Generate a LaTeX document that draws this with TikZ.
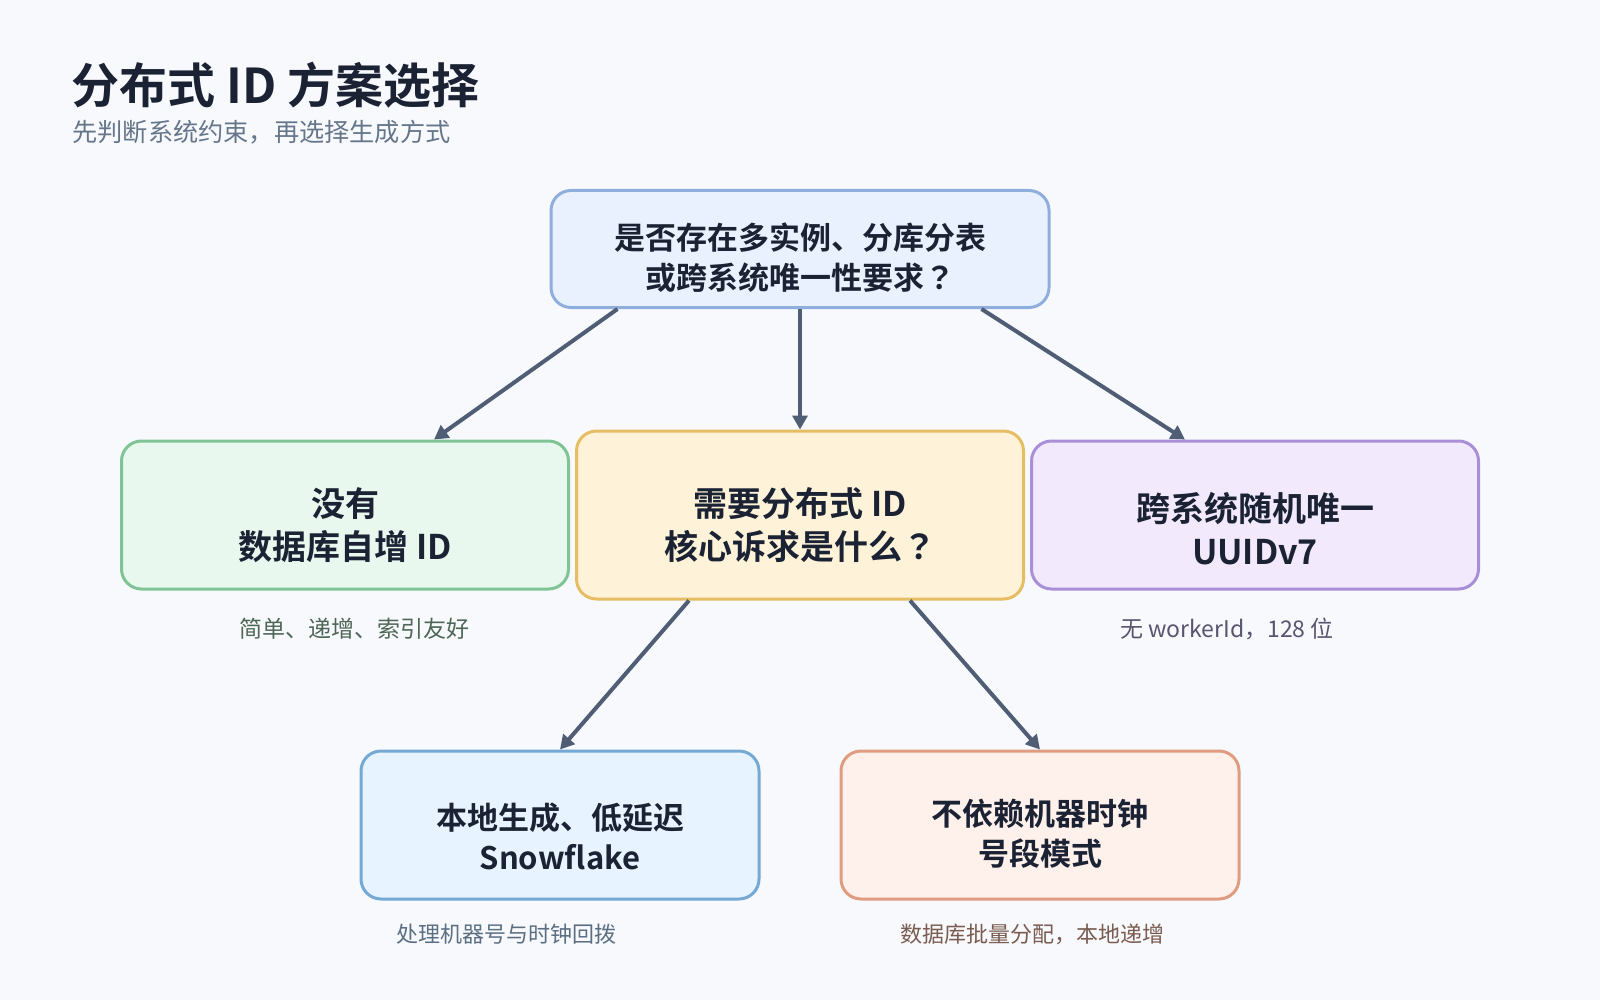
\documentclass[tikz,border=0pt]{standalone}
\usepackage{fontspec}
\setmainfont{Noto Sans CJK SC}[BoldFont={Noto Sans CJK SC Bold}]
\newfontfamily\qfont{Noto Sans CJK JP}[BoldFont={Noto Sans CJK JP Bold}]
\newcommand\qmark{{\qfont ？}}
\usetikzlibrary{positioning,arrows.meta}
\definecolor{paper}{HTML}{F7F9FC}
\definecolor{ink}{HTML}{1A2233}
\definecolor{muted}{HTML}{66768A}
\definecolor{edge}{HTML}{4F5D75}
\definecolor{qfill}{HTML}{E9F1FE}\definecolor{qline}{HTML}{8FAEDD}
\definecolor{gfill}{HTML}{E8F8EE}\definecolor{gline}{HTML}{80C495}
\definecolor{yfill}{HTML}{FEF3D9}\definecolor{yline}{HTML}{E6BD63}
\definecolor{pfill}{HTML}{F2E9FD}\definecolor{pline}{HTML}{A98ED8}
\definecolor{bfill}{HTML}{E7F3FE}\definecolor{bline}{HTML}{74A9D5}
\definecolor{ofill}{HTML}{FEF0EA}\definecolor{oline}{HTML}{E09C80}
\definecolor{gnote}{HTML}{4E6656}
\definecolor{pnote}{HTML}{5A5470}
\definecolor{bnote}{HTML}{5B6E82}
\definecolor{onote}{HTML}{7A5C50}

\begin{document}
\begin{tikzpicture}[x=0.5pt,y=-0.5pt,
    card/.style={rounded corners=10pt,line width=1.5pt,inner sep=0pt,minimum width=223.5pt,minimum height=74pt},
    cardtext/.style={text=ink,font=\fontsize{15.5}{20}\selectfont\bfseries,align=center},
    bigtext/.style={cardtext,font=\fontsize{17}{21.5}\selectfont\bfseries},
    note/.style={font=\fontsize{11.5}{14}\selectfont},
    smallnote/.style={font=\fontsize{11}{13}\selectfont},
    link/.style={draw=edge,line width=2pt,-{Triangle[length=7pt,width=7.5pt]}}]
  \fill[paper] (0,0) rectangle (1600,1000);
  \useasboundingbox (0,0) rectangle (1600,1000);

  % heading
  \node[anchor=west,text=ink,font=\fontsize{24}{28}\selectfont\bfseries,inner sep=0pt] (title) at (71,85) {分布式 ID 方案选择};
  \node[anchor=west,text=muted,font=\fontsize{12.6}{15}\selectfont,inner sep=0pt] (sub) at (72,132) {先判断系统约束，再选择生成方式};

  % decision boxes
  \node[card,fill=qfill,draw=qline,minimum width=249pt,minimum height=58.5pt] (top) at (800,249) {};
  \node[card,fill=gfill,draw=gline] (no) at (345,515) {};
  \node[card,fill=yfill,draw=yline,minimum height=84pt] (mid) at (800,515) {};
  \node[card,fill=pfill,draw=pline] (uuid) at (1255,515) {};
  \node[card,fill=bfill,draw=bline,minimum width=199pt] (sf) at (560,825) {};
  \node[card,fill=ofill,draw=oline,minimum width=199pt] (seg) at (1040,825) {};

  \node[cardtext] (topt) at ([yshift=-4.5pt]top.center) {是否存在多实例、分库分表\\或跨系统唯一性要求\qmark};
  \node[bigtext] (not) at ([yshift=-5pt]no.center) {没有\\数据库自增 ID};
  \node[bigtext] (midt) at ([yshift=-5pt]mid.center) {需要分布式 ID\\核心诉求是什么\qmark};
  \node[bigtext] (uuidt) at ([yshift=-7pt]uuid.center) {跨系统随机唯一\\UUIDv7};
  \node[cardtext] (sft) at ([yshift=-5.5pt]sf.center) {本地生成、低延迟\\Snowflake};
  \node[cardtext] (segt) at ([yshift=-4.5pt]seg.center) {不依赖机器时钟\\号段模式};

  % notes under the leaves
  \node[note,text=gnote] (non) at (354,629) {简单、递增、索引友好};
  \node[note,text=pnote] (uuidn) at (1227,629) {无 workerId，128 位};
  \node[smallnote,text=bnote] (sfn) at (506,934) {处理机器号与时钟回拨};
  \node[smallnote,text=onote] (segn) at (1032,934) {数据库批量分配，本地递增};

  % branches
  \draw[link] ([xshift=34pt]top.south west) -- ([xshift=44.5pt]no.north);
  \draw[link] (top.south) -- (mid.north);
  \draw[link] ([xshift=-34.5pt]top.south east) -- ([xshift=-35pt]uuid.north);
  \draw[link] ([xshift=57pt]mid.south west) -- (sf.north);
  \draw[link] ([xshift=-57.5pt]mid.south east) -- (seg.north);
\end{tikzpicture}
\end{document}
